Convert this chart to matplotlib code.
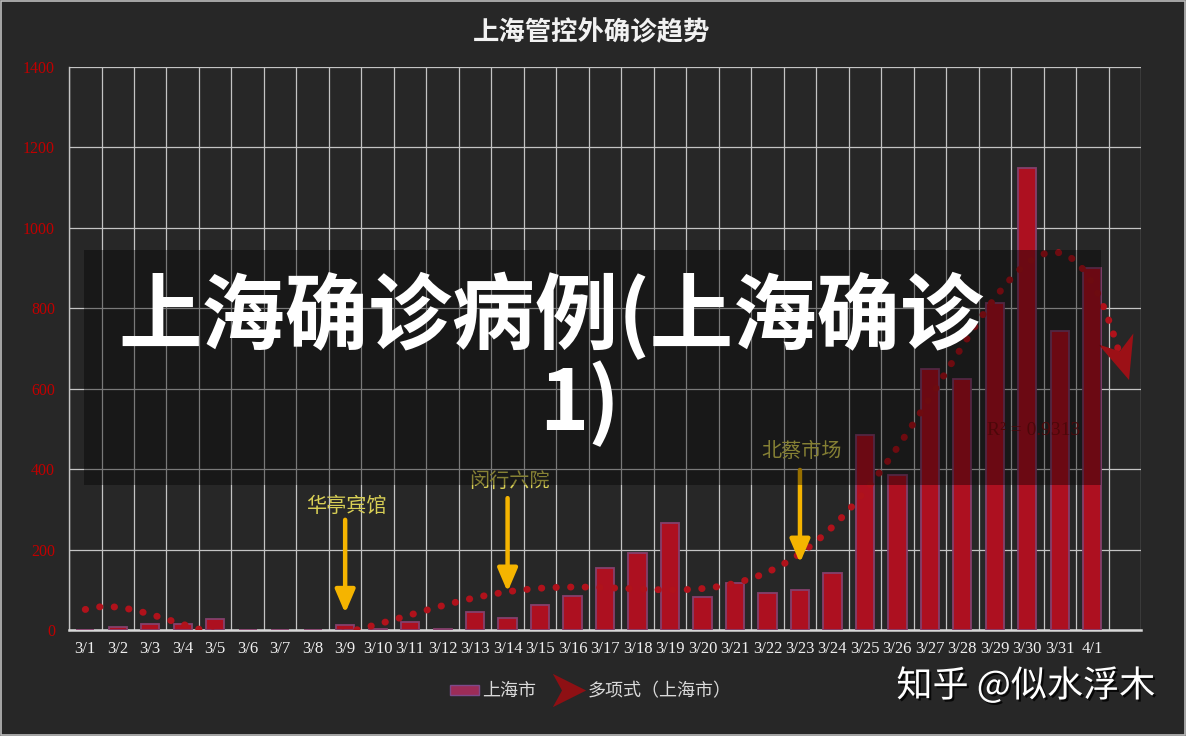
import numpy as np
import matplotlib
matplotlib.use("Agg")
import matplotlib.pyplot as plt
from matplotlib.patches import Rectangle
from matplotlib.lines import Line2D
from matplotlib.path import Path
from matplotlib.markers import MarkerStyle
from matplotlib.transforms import Affine2D
import matplotlib.patheffects as pe

plt.rcParams['font.family'] = ['Noto Sans CJK SC', 'DejaVu Sans']

# ---------------- data ----------------
dates = ['3/1', '3/2', '3/3', '3/4', '3/5', '3/6', '3/7', '3/8', '3/9', '3/10',
         '3/11', '3/12', '3/13', '3/14', '3/15', '3/16', '3/17', '3/18', '3/19',
         '3/20', '3/21', '3/22', '3/23', '3/24', '3/25', '3/26', '3/27', '3/28',
         '3/29', '3/30', '3/31', '4/1']
cases = [1, 8, 15, 15, 27, 0, 0, 0, 12, 3,
         21, 3, 44, 30, 62, 85, 154, 191, 266,
         83, 116, 92, 100, 141, 486, 386, 649, 623,
         814, 1149, 744, 900]
# polynomial trendline (position in category units, value)
trend_pos = [0, 0.85, 1.7, 2.55, 3.4, 8.22, 9.08, 9.92, 10.77, 11.61, 12.91,
             14.26, 15.61, 16.99, 18.36, 19.71, 20.96, 22.1, 23.15, 24.62,
             25.37, 26.58, 28.12, 28.69, 29.4, 29.85, 30.25, 30.87, 31.3,
             31.61, 31.76]
trend_val = [52, 57, 45, 25, 5, 3, 14, 34, 54, 72, 94,
             106, 108, 101, 101, 111, 142, 196, 270, 409,
             497, 653, 835, 893, 933, 941, 931, 877, 811,
             744, 711]
yticks = [0, 200, 400, 600, 800, 1000, 1200, 1400]
events = ['华亭宾馆', '闵行六院', '北蔡市场']
event_dates = ['3/9', '3/14', '3/23']
series_name = '上海市'
trend_name = '多项式（上海市）'
r2_label = 'R² = 0.9313'
title = '上海管控外确诊趋势'
banner_line1 = '上海确诊病例(上海确诊'
banner_line2 = '1)'
watermark = '知乎 @似水浮木'

BG = '#272727'
BAR = '#ad1020'
BAR_EDGE = '#85406c'
TREND = '#b0121b'

fig = plt.figure(figsize=(11.86, 7.36), dpi=100, facecolor=BG)
ax = fig.add_axes([0.0582, 0.144, 0.9039, 0.765])
ax.set_facecolor(BG)

x = np.arange(len(dates))
ax.bar(x, cases, width=0.56, color=BAR, edgecolor=BAR_EDGE, linewidth=1.3, zorder=3)

# 6th-order polynomial trendline recovered from the sampled trend points
coef = np.polyfit(trend_pos, trend_val, 6)
xs = np.linspace(0, 31.85, 600)
ys = np.polyval(coef, xs)
ax.plot(xs, ys, color=TREND, linewidth=5.0, linestyle=(0, (0.05, 2.05)),
        dash_capstyle='round', zorder=4)

ax.set_xlim(-0.5, len(dates) + 0.5)
ax.set_ylim(0, 1400)

# stealth arrowhead at the end of the trendline, oriented along the curve
fig.canvas.draw()
p1 = ax.transData.transform((xs[-8], ys[-8]))
p2 = ax.transData.transform((xs[-1], ys[-1]))
ang = np.degrees(np.arctan2(p2[1] - p1[1], p2[0] - p1[0]))
stealth = Path([(-1, 0.85), (1, 0), (-1, -0.85), (-0.4, 0), (-1, 0.85)],
               [Path.MOVETO, Path.LINETO, Path.LINETO, Path.LINETO, Path.CLOSEPOLY])
head = MarkerStyle(stealth, transform=Affine2D().rotate_deg(ang))
ax.plot([xs[-1] + 0.05], [ys[-1] - 8], marker=head, markersize=31, color='#9c1016',
        markeredgewidth=0, linestyle='none', zorder=4, clip_on=False)

ax.text(29.2, 497, r2_label, color='#7d0c10', fontsize=14,
        family='Liberation Serif', ha='center', va='center', zorder=4)

# axes styling
ax.set_yticks(yticks)
ax.set_yticklabels([str(v) for v in yticks], color='#c00000',
                   family='Liberation Serif', fontsize=11.5)
ax.set_xticks(x)
ax.set_xticklabels(dates, color='#f0f0f0', family='Liberation Serif', fontsize=12)
ax.tick_params(axis='both', length=0)
ax.tick_params(axis='y', pad=10)
ax.tick_params(axis='x', pad=8)
ax.set_xticks(np.arange(-0.5, len(dates) + 1.0, 1.0), minor=True)
ax.tick_params(which='minor', length=0)
ax.grid(which='minor', axis='x', color='#c4c4c4', linewidth=0.9, zorder=1)
ax.grid(which='major', axis='y', color='#c4c4c4', linewidth=0.9, zorder=1)
ax.grid(which='major', axis='x', visible=False)
ax.set_axisbelow(True)
for s in ['top', 'right']:
    ax.spines[s].set_visible(False)
ax.spines['left'].set_color('#c4c4c4')
ax.spines['left'].set_linewidth(1.0)
ax.spines['bottom'].set_color('#d8d8d8')
ax.spines['bottom'].set_linewidth(1.8)

# event annotations
text_vals = [306, 368, 443]
arrow_top = [274, 328, 398]
arrow_tip = [42, 95, 167]
for name, d, tv, a0, a1 in zip(events, event_dates, text_vals, arrow_top, arrow_tip):
    i = dates.index(d)
    ax.text(i + 0.05, tv, name, color='#d8cf55', fontsize=14.5, ha='center',
            va='center', zorder=5)
    ax.annotate('', xy=(i, a1), xytext=(i, a0),
                arrowprops=dict(arrowstyle='-|>,head_length=1.4,head_width=0.6',
                                color='#f5b400', lw=3.2, shrinkA=0, shrinkB=0),
                zorder=5)

fig.text(0.499, 0.955, title, color='#f2f2f2', fontsize=19, fontweight='bold',
         ha='center', va='center')

# dark translucent banner with large text
fig.patches.append(Rectangle((0.0708, 0.341), 0.8575, 0.319, transform=fig.transFigure,
                             facecolor='black', alpha=0.38, edgecolor='none', zorder=10))
fig.text(0.465, 0.57, banner_line1, color='white', fontsize=60, fontweight='black',
         ha='center', va='center', zorder=11)
fig.text(0.489, 0.45, banner_line2, color='white', fontsize=60, fontweight='black',
         ha='center', va='center', zorder=11)

# legend
leg_arrow = Path([(-1, 1), (1, 0), (-1, -1), (-0.45, 0), (-1, 1)],
                 [Path.MOVETO, Path.LINETO, Path.LINETO, Path.LINETO, Path.CLOSEPOLY])
h_bar = Rectangle((0, 0), 1, 1, facecolor='#9c2c58', edgecolor='#7d4a8a', linewidth=1)
h_tr = Line2D([], [], marker=leg_arrow, markersize=24, linestyle='none',
              color='#8e1014', markeredgewidth=0)
fig.legend([h_bar, h_tr], [series_name, trend_name], loc='center',
           bbox_to_anchor=(0.498, 0.061), ncol=2, frameon=False,
           fontsize=13, labelcolor='#d9d9d9', handlelength=1.6,
           handleheight=0.5, handletextpad=0.2, columnspacing=1.0)

fig.text(0.865, 0.068, watermark, color='white', fontsize=26, ha='center',
         va='center',
         path_effects=[pe.withSimplePatchShadow(offset=(1.5, -1.5), shadow_rgbFace='black', alpha=0.8)])

# thin light border round the image
fig.patches.append(Rectangle((0.0005, 0.0008), 0.999, 0.9985, transform=fig.transFigure,
                             facecolor='none', edgecolor='#bdbdbd', linewidth=1.2, zorder=20))

fig.savefig('out.png', dpi=100, facecolor=BG)
